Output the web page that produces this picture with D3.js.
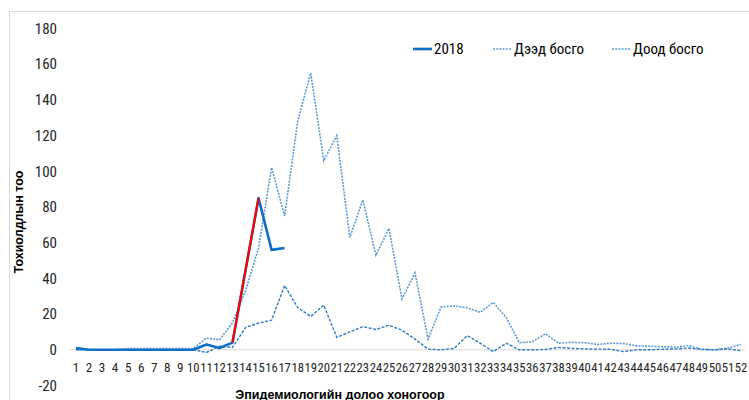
<!DOCTYPE html>
<html>
<head>
<meta charset="utf-8">
<script src="https://cdn.jsdelivr.net/npm/d3@7"></script>
<style>
  body { margin: 0; background: #fff; }
  text { font-family: "Liberation Sans Narrow", "Roboto Condensed", "Liberation Sans", sans-serif; fill: #262626; }
</style>
</head>
<body>
<div id="chart"></div>
<script>
'use strict';

// data
var weeks = d3.range(1, 53);
var cases2018 = [1, 0, 0, 0, 0, 0, 0, 0, 0, 0, 3, 1, 4, 44.5, 85, 56, 57];
var upper = [0, 0, 0, 0, 0.7, 0.7, 0.7, 0.7, 0.7, 0.7, 6.5, 5.6, 15, 33, 57, 102, 75, 128, 155, 106,
    120, 63, 84, 53, 68, 28.5, 43, 6, 24, 24.6, 23.5, 21, 26.5, 18, 4, 4.5, 9, 3.7, 4.2, 4,
    3, 3.7, 3.5, 2.2, 2, 1.7, 1.5, 2.4, 0.2, 0, 1, 3];
var lower = [0, 0, 0, 0, 0, 0, 0, 0, 0, 0, -1.5, 2, 1.3, 12.5, 15, 16.6, 36, 23.7, 18.7, 25,
    7, 10, 13, 11.4, 13.8, 11, 6, 0.4, 0, 0.8, 8, 3.7, -1, 3.7, 0, 0, 0.2, 1.3, 0.8, 0.5,
    0.4, 0.3, -1, 0, 0, 0.3, 0.5, 1, 0.3, 0, 0.5, -0.5];
var redWeeks = [13, 14, 15];
var yTicks = [-20, 0, 20, 40, 60, 80, 100, 120, 140, 160, 180];

var width = 749, height = 400;

var svg = d3.select("#chart").append("svg")
    .attr("width", width)
    .attr("height", height);

// chart area border (cropped on right/bottom)
svg.append("path")
    .attr("d", "M9.5,400 V11.5 H749")
    .attr("fill", "none")
    .attr("stroke", "#d9d9d9");

var x = d3.scalePoint().domain(weeks).range([76, 741]);
var y = d3.scaleLinear().domain([-20, 180]).range([385.5, 28.5]);

// y axis labels
svg.append("g").selectAll("text")
    .data(yTicks)
    .enter().append("text")
    .attr("x", 57)
    .attr("y", function (d) { return y(d); })
    .attr("dy", "0.35em")
    .attr("text-anchor", "end")
    .style("font-size", "15px")
    .text(function (d) { return d; });

// zero line
svg.append("line")
    .attr("x1", 69).attr("x2", 745)
    .attr("y1", y(0)).attr("y2", y(0))
    .attr("stroke", "#d9d9d9");

// x axis labels
svg.append("g").selectAll("text")
    .data(weeks)
    .enter().append("text")
    .attr("x", function (d) { return x(d); })
    .attr("y", 372)
    .attr("text-anchor", "middle")
    .attr("textLength", function (d) { return d < 10 ? 6.5 : 12.5; })
    .attr("lengthAdjust", "spacingAndGlyphs")
    .style("font-size", "13px")
    .text(function (d) { return d; });

var line = d3.line()
    .x(function (d, i) { return x(weeks[i]); })
    .y(function (d) { return y(d); });

svg.append("path")
    .datum(upper)
    .attr("fill", "none")
    .attr("stroke", "#5b9bd5")
    .attr("stroke-width", 1.6)
    .attr("stroke-dasharray", "2,1.2")
    .attr("d", line);

svg.append("path")
    .datum(lower)
    .attr("fill", "none")
    .attr("stroke", "#2e7bc4")
    .attr("stroke-width", 1.4)
    .attr("stroke-dasharray", "3,1.5")
    .attr("d", line);

svg.append("path")
    .datum(cases2018)
    .attr("fill", "none")
    .attr("stroke", "#0f6fc6")
    .attr("stroke-width", 2.6)
    .attr("stroke-linejoin", "round")
    .attr("d", line);

// red highlight over the jump
svg.append("path")
    .datum(redWeeks)
    .attr("fill", "none")
    .attr("stroke", "#ff0000")
    .attr("stroke-width", 2.2)
    .attr("d", d3.line()
        .x(function (d) { return x(d); })
        .y(function (d) { return y(cases2018[d - 1]); }));

// axis titles
svg.append("text")
    .attr("transform", "translate(23," + 222 + ") rotate(-90)")
    .attr("text-anchor", "middle")
    .style("font-family", "'Liberation Sans', Arial, sans-serif")
    .style("font-weight", "bold")
    .style("font-size", "12.5px")
    .style("fill", "#000")
    .text("Тохиолдлын тоо");

svg.append("text")
    .attr("x", 340)
    .attr("y", 399)
    .attr("text-anchor", "middle")
    .style("font-family", "'Liberation Sans', Arial, sans-serif")
    .style("font-weight", "bold")
    .style("font-size", "12.5px")
    .style("fill", "#000")
    .text("Эпидемиологийн долоо хоногоор");

// legend
var legend = [
    {name: "2018", x: 413, color: "#0f6fc6", w: 2.6, dash: null},
    {name: "Дээд босго", x: 493, color: "#5b9bd5", w: 1.4, dash: "2,1.2"},
    {name: "Доод босго", x: 612, color: "#5b9bd5", w: 1.4, dash: "2,1.2"}
];
var lg = svg.append("g").selectAll("g")
    .data(legend)
    .enter().append("g")
    .attr("transform", function (d) { return "translate(" + d.x + ",49)"; });
lg.append("line")
    .attr("x1", 0).attr("x2", 19)
    .attr("stroke", function (d) { return d.color; })
    .attr("stroke-width", function (d) { return d.w; })
    .attr("stroke-dasharray", function (d) { return d.dash; });
lg.append("text")
    .attr("x", 21)
    .attr("dy", "0.35em")
    .style("font-size", "15px")
    .style("fill", "#000")
    .text(function (d) { return d.name; });
</script>
</body>
</html>
